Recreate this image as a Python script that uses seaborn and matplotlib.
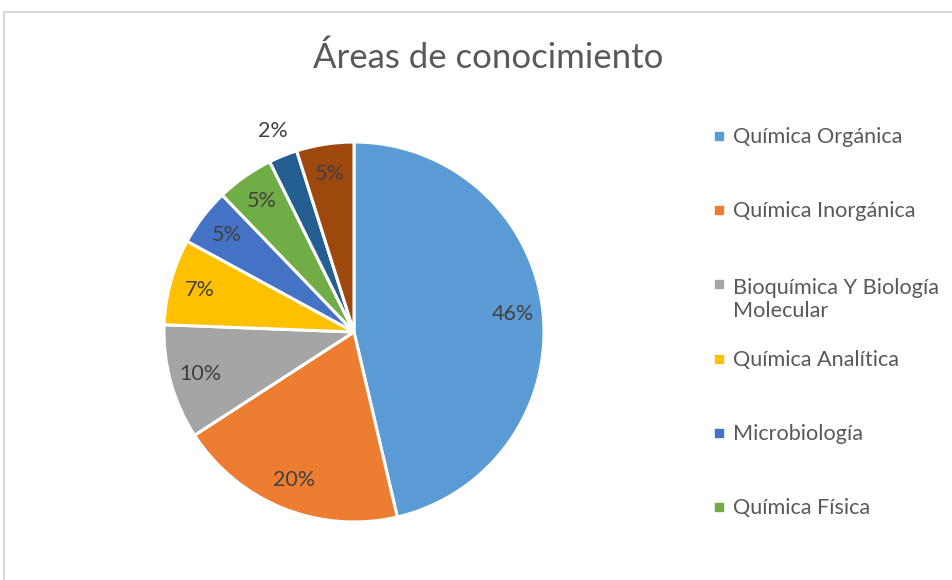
import matplotlib
matplotlib.use("Agg")
import matplotlib.pyplot as plt
import matplotlib.patches as mpatches
import numpy as np
import seaborn as sns

# Datos del gráfico (porcentajes sobre 41 trabajos)
categorias = ["Química Orgánica", "Química Inorgánica", "Bioquímica Y Biología\nMolecular",
              "Química Analítica", "Microbiología", "Química Física", "Otra área 1", "Otra área 2"]
conteos = [19, 8, 4, 3, 2, 2, 1, 2]
colores = ["#5B9BD5", "#ED7D31", "#A5A5A5", "#FFC000", "#4472C4", "#70AD47", "#255E91", "#9E480E"]
n_leyenda = 6  # la leyenda original solo muestra las 6 primeras

sns.set_theme(style="white")
plt.rcParams['font.family'] = ['Lato', 'DejaVu Sans']
palette = sns.color_palette(colores)

W, H = 953, 580
fig = plt.figure(figsize=(W / 100, H / 100), dpi=100)

# marco gris del área del gráfico (cortado a la derecha y abajo)
fig.patches.append(mpatches.Rectangle((4 / W, -0.1), 1.2, 1 - 12 / H + 0.1, transform=fig.transFigure,
                                      fill=False, edgecolor="#D9D9D9", linewidth=1.5))

# pie
cx, cy, r = 354, 332, 190
ax = fig.add_axes([(cx - r) / W, (H - cy - r) / H, 2 * r / W, 2 * r / H])
wedges, texts, autotexts = ax.pie(conteos, colors=palette, startangle=90, counterclock=False,
                                  autopct=lambda p: f"{p:.0f}%", pctdistance=0.84,
                                  wedgeprops=dict(edgecolor="white", linewidth=2.2),
                                  textprops=dict(color="#404040", fontsize=15.5))
# etiqueta pequeña fuera del sector
for w, t in zip(wedges, autotexts):
    if w.theta2 - w.theta1 < 12:
        ang = np.deg2rad((w.theta1 + w.theta2) / 2)
        t.set_position((1.14 * np.cos(ang), 1.14 * np.sin(ang)))
ax.set_xlim(-1, 1)
ax.set_ylim(-1, 1)
ax.set_aspect("equal")
ax.axis("off")

fig.text(488 / W, 1 - 58 / H, "Áreas de conocimiento", ha="center", va="center",
         fontsize=25, color="#595959")

# leyenda
y0, paso, interlinea = 143, 74.2, 26
for i in range(n_leyenda):
    yb = y0 + i * paso
    extra = categorias[i].count("\n") * interlinea
    fig.patches.append(mpatches.Rectangle((715 / W, 1 - (yb - 3) / H), 8 / W, 8 / H,
                                          transform=fig.transFigure, color=palette[i]))
    fig.text(733 / W, 1 - (yb + extra) / H, categorias[i], ha="left", va="baseline",
             fontsize=15.6, color="#595959", linespacing=1.2)

fig.savefig("out.png", dpi=100)
